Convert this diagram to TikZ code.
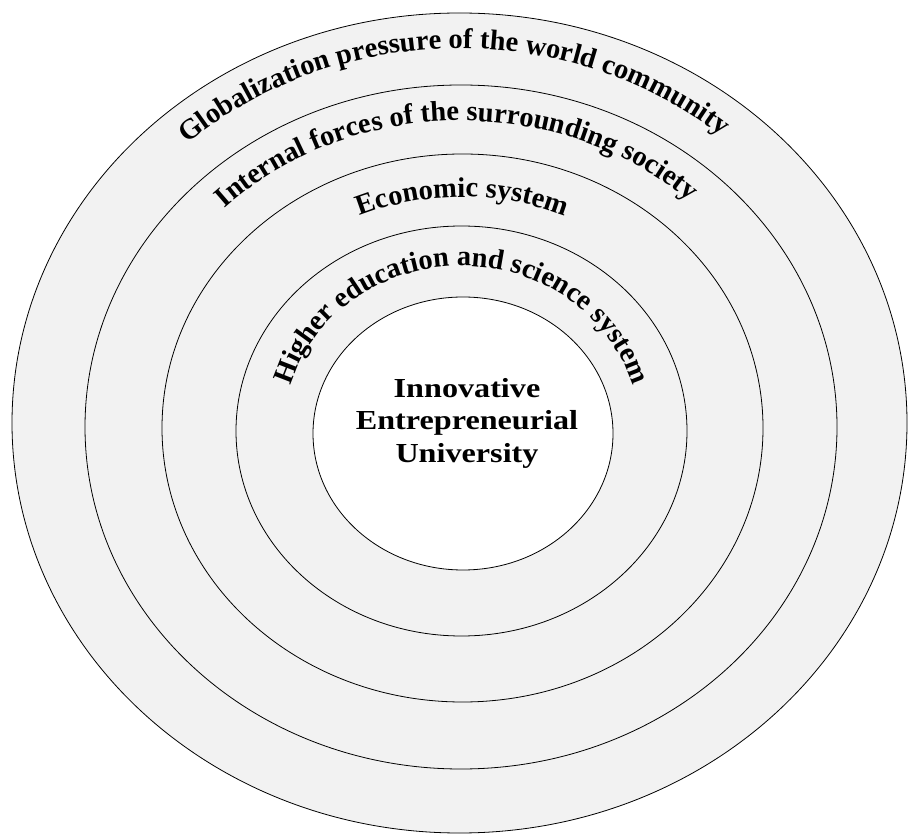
\documentclass[tikz,border=0pt]{standalone}
\usepackage{fontspec}
\setmainfont{Liberation Serif}
\newfontfamily\widefont[FakeStretch=1.17]{Liberation Serif}
\usetikzlibrary{shapes.geometric,decorations.text,positioning}
\definecolor{ringgray}{HTML}{F2F2F2}
\newcommand{\arcfont}{\fontsize{28.5}{33}\selectfont\bfseries}

\begin{document}
\begin{tikzpicture}
    [x=1pt, y=1pt,
    ring/.style={ellipse, draw, line width=0.8pt, fill=ringgray, inner sep=0pt},
    core/.style={ring, fill=white},
    bandtext/.style={decorate, decoration={text along path,
    text align=center, text={|\arcfont|#1}}},
    title/.style={align=center, inner sep=0pt,
    font=\fontsize{27.5}{32.5}\selectfont\widefont\bfseries}]

  \fill[white] (0,0) rectangle (909,835);
  \useasboundingbox (0,0) rectangle (909,835);

  \node[ring, minimum width=895pt, minimum height=820pt] (world) at (459.5,412) {};
  \node[ring, minimum width=752pt, minimum height=684pt] (society) at (461,408) {};
  \node[ring, minimum width=601pt, minimum height=548pt] (economy) at (462.5,407) {};
  \node[ring, minimum width=451pt, minimum height=410pt] (science) at (461.5,404) {};
  \node[core, minimum width=300pt, minimum height=273pt] (uni) at (463,401.5) {};

  \path[bandtext={Globalization pressure of the world community}]
    ([xshift=-405pt]world.center) arc[start angle=181, end angle=1,
    x radius=405, y radius=368];
  \path[bandtext={Internal forces of the surrounding society}]
    ([xshift=-335pt]society.center) arc[start angle=181, end angle=1,
    x radius=335, y radius=301];
  \path[bandtext={Economic system}]
    ([xshift=-257.5pt]economy.center) arc[start angle=180, end angle=0,
    x radius=257.5, y radius=231];
  \path[bandtext={Higher education and science system}]
    ([xshift=-178pt]science.center) arc[start angle=180, end angle=0,
    x radius=178, y radius=165];

  \node[title, above right=10.5pt and 4pt of uni.center, anchor=center] (label)
    {Innovative\\Entrepreneurial\\University};

\end{tikzpicture}
\end{document}
